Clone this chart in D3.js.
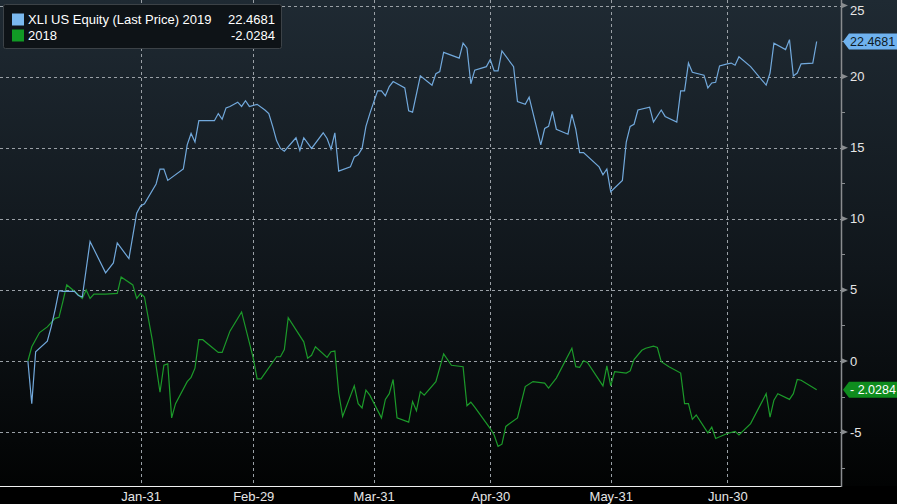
<!DOCTYPE html>
<html>
<head>
<meta charset="utf-8">
<script src="https://cdn.jsdelivr.net/npm/d3@7"></script>
<style>
  html, body { margin: 0; padding: 0; background: #000; }
  svg { display: block; }
  text { font-family: "Liberation Sans", Arial, sans-serif; }
</style>
</head>
<body>
<svg id="chart" width="897" height="504"></svg>
<script>
// ---- Data (day offset from Jan-01, cumulative % change) ----
const seriesNames = ["XLI US Equity (Last Price) 2019", "2018"];
const lastValues = [22.4681, -2.0284];

const days2019 = [1,2,3,6,7,8,9,10,13,14,15,17,21,23,24,27,29,30,31,34,35,36,37,41,42,43,44,45,49,50,51,52,53,55,56,57,58,60,62,63,64,65,66,67,70,71,72,74,77,78,79,80,81,84,85,86,87,88,89,91,92,93,94,95,98,99,100,102,105,106,107,108,112,113,114,115,116,119,120,121,122,123,126,127,129,130,133,134,135,136,137,140,141,142,143,144,148,149,150,151,154,155,156,157,158,161,162,164,165,168,169,170,171,172,175,176,177,178,179,181,182,183,184,187,191,192,193,196,197,198,199,200,203,204];
const values2019 = [0,-3.0,0.65,1.4,2.4,3.6,4.95,4.9,4.9,4.6,4.5,8.4,6.2,6.9,8.3,7.2,10.4,10.9,11.05,12.45,13.5,13.5,12.7,13.5,15.2,16.0,15.4,16.9,16.9,17.4,17.0,17.8,17.9,18.2,17.9,18.3,17.9,18.05,17.65,17.4,16.5,15.5,14.95,14.75,15.7,14.8,15.7,14.95,16.05,15.65,14.9,16.05,13.35,13.65,14.35,14.5,14.95,16.5,17.4,19.0,19.0,18.65,19.3,19.65,19.2,17.6,17.5,20.05,19.4,20.2,20.35,21.7,21.3,22.35,22.0,19.5,20.45,20.7,21.2,20.4,20.4,21.8,20.7,18.25,18.05,18.55,15.2,16.35,16.5,17.55,16.3,15.95,17.35,16.3,14.65,14.65,13.65,13.1,13.5,11.9,12.7,15.4,16.5,16.65,17.65,17.85,16.8,17.65,17.2,16.8,19.0,19.0,20.95,20.3,20.1,19.2,19.55,19.6,20.75,20.9,20.95,20.8,21.4,20.7,19.4,20.25,22.35,21.9,22.6,20.05,20.25,20.9,20.95,22.4681];

const days2018 = [1,2,4,6,8,9,10,11,13,15,16,17,18,21,24,25,28,29,30,31,33,35,36,37,38,39,42,43,44,45,46,50,51,53,56,59,60,61,65,66,67,68,72,73,74,75,78,79,80,81,82,85,86,87,88,89,92,93,94,95,96,99,100,101,102,103,106,108,110,113,114,115,116,120,121,122,123,124,127,129,131,134,135,137,141,142,143,144,145,149,150,151,152,155,156,157,159,160,162,163,164,166,169,170,171,172,173,176,177,178,181,183,184,187,191,192,193,194,197,198,199,200,204];
const values2018 = [0,1.0,2.0,2.4,3.0,3.07,4.17,5.35,4.9,4.4,5.0,4.4,4.7,4.7,4.75,5.9,5.35,4.4,4.75,4.5,1.5,-2.2,-0.3,-0.2,-4.0,-3.0,-1.45,-1.15,-0.5,1.5,1.5,0.6,0.6,2.1,3.45,0.2,-1.25,-1.25,0.3,0.3,0.8,3.05,1.35,0.2,0.4,1.0,0.25,0.65,0.7,-2.25,-3.9,-1.75,-3.0,-3.3,-2.05,-2.4,-4.0,-2.7,-2.3,-1.3,-4.0,-4.3,-2.85,-3.5,-2.15,-2.4,-1.45,0.5,-0.3,-0.4,-3.15,-2.9,-3.25,-4.75,-5.2,-6.0,-5.85,-4.6,-4.0,-1.8,-1.45,-1.55,-1.9,-1.2,0.9,-0.4,-0.45,0.02,-0.1,-1.75,-0.35,-1.75,-0.75,-0.85,-0.7,0.1,0.75,0.9,1.05,0.95,-0.05,-0.4,-0.85,-3.0,-3.0,-4.1,-3.8,-5.05,-4.65,-5.45,-5.1,-4.95,-5.2,-4.4,-2.3,-3.95,-2.75,-2.3,-2.7,-2.3,-1.3,-1.35,-2.0284];

const xTickDays = [30, 59, 90, 120, 151, 181];
const xTickLabels = ["Jan-31", "Feb-29", "Mar-31", "Apr-30", "May-31", "Jun-30"];
const yTickValues = [-5, 0, 5, 10, 15, 20, 25];
const yMinorValues = [-7.5, -2.5, 2.5, 7.5, 12.5, 17.5, 22.5];

const colors = ["#72a9dc", "#1c9a2a"];
const tagColors = ["#6fb2ef", "#0f8c1e"];
const tagText = ["#0d1a26", "#ffffff"];

// ---- Setup ----
const W = 897, H = 504;
const plotRight = 841, plotBottom = 486;
const base = Date.UTC(2020, 0, 1);
const toDate = d => new Date(base + d * 86400000);

const x = d3.scaleUtc()
  .domain([toDate(0), toDate(181)])
  .range([24, 727.3]);
const y = d3.scaleLinear()
  .domain([-5, 25])
  .range([432.1, 5.5]);

const svg = d3.select("#chart");
const defs = svg.append("defs");
const grad = defs.append("linearGradient")
  .attr("id", "bg").attr("x1", 0).attr("y1", 0).attr("x2", 0).attr("y2", 1);
grad.append("stop").attr("offset", "0%").attr("stop-color", "#1f2a33");
grad.append("stop").attr("offset", "55%").attr("stop-color", "#10161b");
grad.append("stop").attr("offset", "100%").attr("stop-color", "#020303");

svg.append("rect").attr("width", W).attr("height", H).attr("fill", "#000");
svg.append("rect").attr("x", 0).attr("y", 0)
  .attr("width", W).attr("height", plotBottom).attr("fill", "url(#bg)");

// ---- Grid ----
const grid = svg.append("g");
grid.selectAll("line.h").data(yTickValues).join("line")
  .attr("x1", 0).attr("x2", plotRight)
  .attr("y1", d => Math.round(y(d)) + 0.5).attr("y2", d => Math.round(y(d)) + 0.5)
  .attr("stroke", "#9aa0a6").attr("stroke-width", 1).attr("stroke-dasharray", "3,3");
grid.selectAll("line.v").data(xTickDays).join("line")
  .attr("x1", d => Math.round(x(toDate(d))) + 0.5).attr("x2", d => Math.round(x(toDate(d))) + 0.5)
  .attr("y1", 0).attr("y2", plotBottom)
  .attr("stroke", "#9aa0a6").attr("stroke-width", 1).attr("stroke-dasharray", "3,3");

// ---- Lines ----
const line = d3.line().x(d => x(toDate(d[0]))).y(d => y(d[1]));
const series = [
  d3.zip(days2018, values2018),
  d3.zip(days2019, values2019)
];
svg.append("path").datum(series[0]).attr("d", line)
  .attr("fill", "none").attr("stroke", colors[1]).attr("stroke-width", 1.2);
svg.append("path").datum(series[1]).attr("d", line)
  .attr("fill", "none").attr("stroke", colors[0]).attr("stroke-width", 1.2);

// ---- Bottom axis ----
const xAxis = d3.axisBottom(x)
  .tickValues(xTickDays.map(toDate))
  .tickFormat((d, i) => xTickLabels[i])
  .tickSize(0).tickPadding(6);
const gx = svg.append("g").attr("transform", `translate(0,${plotBottom})`).call(xAxis);
gx.select(".domain").remove();
gx.selectAll("text").attr("fill", "#e6e6e6").attr("font-size", 13)
  .attr("font-family", "Liberation Sans, Arial, sans-serif");
svg.append("line").attr("x1", 0).attr("x2", plotRight + 0.5)
  .attr("y1", plotBottom + 0.5).attr("y2", plotBottom + 0.5)
  .attr("stroke", "#f0f0f0").attr("stroke-width", 1);

// ---- Right axis ----
svg.append("line").attr("x1", plotRight + 0.5).attr("x2", plotRight + 0.5)
  .attr("y1", 0).attr("y2", plotBottom + 1)
  .attr("stroke", "#8a8d90").attr("stroke-width", 1.5);
const gy = svg.append("g");
gy.selectAll("path.tri").data(yTickValues).join("path")
  .attr("d", d => `M${plotRight},${y(d) - 3}L${plotRight + 7},${y(d)}L${plotRight},${y(d) + 3}Z`)
  .attr("fill", "#8a8d90");
gy.selectAll("line.minor").data(yMinorValues).join("line")
  .attr("x1", plotRight).attr("x2", plotRight + 4)
  .attr("y1", d => Math.round(y(d)) + 0.5).attr("y2", d => Math.round(y(d)) + 0.5)
  .attr("stroke", "#8a8d90").attr("stroke-width", 1);
gy.selectAll("text").data(yTickValues).join("text")
  .attr("x", 850).attr("y", d => Math.max(y(d), 10.5)).attr("dy", "0.35em")
  .attr("fill", "#e6e6e6").attr("font-size", 13)
  .text(d => d < 0 ? "-" + Math.abs(d) : d);

// ---- Last-value tags ----
lastValues.forEach((v, i) => {
  const cy = y(v);
  const g = svg.append("g");
  g.append("path")
    .attr("d", `M${plotRight + 2},${cy}L${plotRight + 8},${cy - 8}L${W},${cy - 8}L${W},${cy + 8}L${plotRight + 8},${cy + 8}Z`)
    .attr("fill", tagColors[i]);
  g.append("text").attr("x", 850).attr("y", cy).attr("dy", "0.36em")
    .attr("fill", tagText[i]).attr("font-size", 12.5)
    .text(v < 0 ? "- " + Math.abs(v).toFixed(4) : v.toFixed(4));
});

// ---- Legend ----
const lg = svg.append("g");
lg.append("rect").attr("x", 3.5).attr("y", 4.5).attr("width", 278).attr("height", 44)
  .attr("rx", 2).attr("fill", "#0e1317").attr("stroke", "#3c4247").attr("stroke-width", 1);
seriesNames.forEach((name, i) => {
  const cy = 19.5 + i * 16;
  lg.append("rect").attr("x", 12).attr("y", cy - 6).attr("width", 12).attr("height", 12)
    .attr("fill", i === 0 ? "#7ab8ee" : "#119a25");
  lg.append("text").attr("x", 28).attr("y", cy).attr("dy", "0.36em")
    .attr("fill", "#ffffff").attr("font-size", 13).text(name);
  lg.append("text").attr("x", 275).attr("y", cy).attr("dy", "0.36em")
    .attr("text-anchor", "end").attr("fill", "#ffffff").attr("font-size", 13)
    .text(lastValues[i] < 0 ? "-" + Math.abs(lastValues[i]).toFixed(4) : lastValues[i].toFixed(4));
});
</script>
</body>
</html>
